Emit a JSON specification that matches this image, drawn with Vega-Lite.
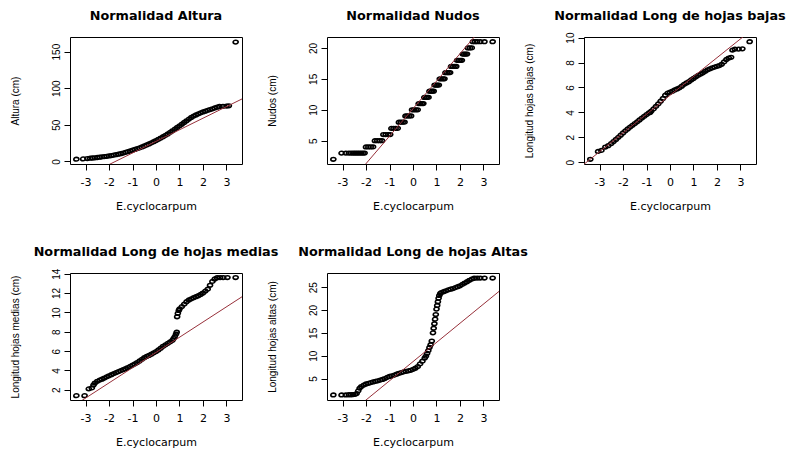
{
  "$schema": "https://vega.github.io/schema/vega-lite/v6.json",
  "background": "white",
  "padding": {"left": 9, "top": 9, "right": 0, "bottom": 0},
  "columns": 3,
  "bounds": "flush",
  "spacing": {"column": 85, "row": 109},
  "datasets": {
    "qq": [
      {"var": "Altura", "q": -3.39, "v": 3}, {"var": "Altura", "q": -3.1, "v": 3.4}, {"var": "Altura", "q": -2.92, "v": 3.9}, {"var": "Altura", "q": -2.8, "v": 4.3},
      {"var": "Altura", "q": -2.7, "v": 4.6}, {"var": "Altura", "q": -2.6, "v": 4.9}, {"var": "Altura", "q": -2.5, "v": 5.3}, {"var": "Altura", "q": -2.4, "v": 5.7},
      {"var": "Altura", "q": -2.3, "v": 6.1}, {"var": "Altura", "q": -2.2, "v": 6.5}, {"var": "Altura", "q": -2.1, "v": 6.9}, {"var": "Altura", "q": -2.0, "v": 7.4},
      {"var": "Altura", "q": -1.9, "v": 7.9}, {"var": "Altura", "q": -1.8, "v": 8.5}, {"var": "Altura", "q": -1.7, "v": 9.1}, {"var": "Altura", "q": -1.6, "v": 9.8},
      {"var": "Altura", "q": -1.5, "v": 10.5}, {"var": "Altura", "q": -1.4, "v": 11.4}, {"var": "Altura", "q": -1.3, "v": 12.3}, {"var": "Altura", "q": -1.2, "v": 13.2},
      {"var": "Altura", "q": -1.1, "v": 14.2}, {"var": "Altura", "q": -1.0, "v": 15.2}, {"var": "Altura", "q": -0.9, "v": 16.3}, {"var": "Altura", "q": -0.8, "v": 17.4},
      {"var": "Altura", "q": -0.7, "v": 18.5}, {"var": "Altura", "q": -0.6, "v": 19.7}, {"var": "Altura", "q": -0.5, "v": 21}, {"var": "Altura", "q": -0.4, "v": 22.4},
      {"var": "Altura", "q": -0.3, "v": 23.8}, {"var": "Altura", "q": -0.2, "v": 25.3}, {"var": "Altura", "q": -0.1, "v": 26.9}, {"var": "Altura", "q": 0.0, "v": 28.5},
      {"var": "Altura", "q": 0.1, "v": 30.2}, {"var": "Altura", "q": 0.2, "v": 31.9}, {"var": "Altura", "q": 0.3, "v": 33.7}, {"var": "Altura", "q": 0.4, "v": 35.6},
      {"var": "Altura", "q": 0.5, "v": 37.5}, {"var": "Altura", "q": 0.6, "v": 39.6}, {"var": "Altura", "q": 0.7, "v": 41.8}, {"var": "Altura", "q": 0.8, "v": 44},
      {"var": "Altura", "q": 0.9, "v": 46.3}, {"var": "Altura", "q": 1.0, "v": 48.5}, {"var": "Altura", "q": 1.1, "v": 50.8}, {"var": "Altura", "q": 1.2, "v": 53.2},
      {"var": "Altura", "q": 1.3, "v": 55.5}, {"var": "Altura", "q": 1.4, "v": 57.8}, {"var": "Altura", "q": 1.5, "v": 60}, {"var": "Altura", "q": 1.6, "v": 61.8},
      {"var": "Altura", "q": 1.7, "v": 63.4}, {"var": "Altura", "q": 1.8, "v": 64.9}, {"var": "Altura", "q": 1.9, "v": 66.3}, {"var": "Altura", "q": 2.0, "v": 67.5},
      {"var": "Altura", "q": 2.1, "v": 68.6}, {"var": "Altura", "q": 2.2, "v": 69.7}, {"var": "Altura", "q": 2.3, "v": 70.8}, {"var": "Altura", "q": 2.4, "v": 71.9},
      {"var": "Altura", "q": 2.5, "v": 73}, {"var": "Altura", "q": 2.6, "v": 74}, {"var": "Altura", "q": 2.7, "v": 75}, {"var": "Altura", "q": 2.85, "v": 75.3},
      {"var": "Altura", "q": 3.0, "v": 75.6}, {"var": "Altura", "q": 3.1, "v": 76}, {"var": "Altura", "q": 3.39, "v": 163},

      {"var": "Nudos", "q": -3.39, "v": 2},
      {"var": "Nudos", "q": -3.04, "v": 3}, {"var": "Nudos", "q": -2.86, "v": 3}, {"var": "Nudos", "q": -2.73, "v": 3}, {"var": "Nudos", "q": -2.63, "v": 3},
      {"var": "Nudos", "q": -2.54, "v": 3}, {"var": "Nudos", "q": -2.46, "v": 3}, {"var": "Nudos", "q": -2.38, "v": 3}, {"var": "Nudos", "q": -2.3, "v": 3},
      {"var": "Nudos", "q": -2.22, "v": 3}, {"var": "Nudos", "q": -2.14, "v": 3}, {"var": "Nudos", "q": -2.06, "v": 3},
      {"var": "Nudos", "q": -2.0, "v": 4}, {"var": "Nudos", "q": -1.9, "v": 4}, {"var": "Nudos", "q": -1.8, "v": 4}, {"var": "Nudos", "q": -1.7, "v": 4},
      {"var": "Nudos", "q": -1.62, "v": 5}, {"var": "Nudos", "q": -1.52, "v": 5}, {"var": "Nudos", "q": -1.42, "v": 5}, {"var": "Nudos", "q": -1.32, "v": 5},
      {"var": "Nudos", "q": -1.26, "v": 6}, {"var": "Nudos", "q": -1.16, "v": 6}, {"var": "Nudos", "q": -1.06, "v": 6}, {"var": "Nudos", "q": -0.97, "v": 6},
      {"var": "Nudos", "q": -0.92, "v": 7}, {"var": "Nudos", "q": -0.83, "v": 7}, {"var": "Nudos", "q": -0.74, "v": 7}, {"var": "Nudos", "q": -0.65, "v": 7},
      {"var": "Nudos", "q": -0.6, "v": 8}, {"var": "Nudos", "q": -0.52, "v": 8}, {"var": "Nudos", "q": -0.44, "v": 8}, {"var": "Nudos", "q": -0.36, "v": 8},
      {"var": "Nudos", "q": -0.32, "v": 9}, {"var": "Nudos", "q": -0.24, "v": 9}, {"var": "Nudos", "q": -0.16, "v": 9}, {"var": "Nudos", "q": -0.08, "v": 9},
      {"var": "Nudos", "q": -0.04, "v": 10}, {"var": "Nudos", "q": 0.04, "v": 10}, {"var": "Nudos", "q": 0.12, "v": 10}, {"var": "Nudos", "q": 0.2, "v": 10},
      {"var": "Nudos", "q": 0.24, "v": 11}, {"var": "Nudos", "q": 0.31, "v": 11}, {"var": "Nudos", "q": 0.38, "v": 11}, {"var": "Nudos", "q": 0.44, "v": 11},
      {"var": "Nudos", "q": 0.48, "v": 12}, {"var": "Nudos", "q": 0.54, "v": 12}, {"var": "Nudos", "q": 0.6, "v": 12}, {"var": "Nudos", "q": 0.66, "v": 12},
      {"var": "Nudos", "q": 0.7, "v": 13}, {"var": "Nudos", "q": 0.76, "v": 13}, {"var": "Nudos", "q": 0.82, "v": 13}, {"var": "Nudos", "q": 0.88, "v": 13},
      {"var": "Nudos", "q": 0.92, "v": 14}, {"var": "Nudos", "q": 0.98, "v": 14}, {"var": "Nudos", "q": 1.04, "v": 14}, {"var": "Nudos", "q": 1.1, "v": 14},
      {"var": "Nudos", "q": 1.14, "v": 15}, {"var": "Nudos", "q": 1.21, "v": 15}, {"var": "Nudos", "q": 1.28, "v": 15}, {"var": "Nudos", "q": 1.34, "v": 15},
      {"var": "Nudos", "q": 1.38, "v": 16}, {"var": "Nudos", "q": 1.45, "v": 16}, {"var": "Nudos", "q": 1.52, "v": 16}, {"var": "Nudos", "q": 1.58, "v": 16},
      {"var": "Nudos", "q": 1.62, "v": 17}, {"var": "Nudos", "q": 1.69, "v": 17}, {"var": "Nudos", "q": 1.77, "v": 17}, {"var": "Nudos", "q": 1.84, "v": 17},
      {"var": "Nudos", "q": 1.88, "v": 18}, {"var": "Nudos", "q": 1.95, "v": 18}, {"var": "Nudos", "q": 2.02, "v": 18}, {"var": "Nudos", "q": 2.08, "v": 18},
      {"var": "Nudos", "q": 2.12, "v": 19}, {"var": "Nudos", "q": 2.18, "v": 19}, {"var": "Nudos", "q": 2.24, "v": 19}, {"var": "Nudos", "q": 2.3, "v": 19},
      {"var": "Nudos", "q": 2.34, "v": 20}, {"var": "Nudos", "q": 2.42, "v": 20}, {"var": "Nudos", "q": 2.5, "v": 20},
      {"var": "Nudos", "q": 2.55, "v": 21}, {"var": "Nudos", "q": 2.64, "v": 21}, {"var": "Nudos", "q": 2.73, "v": 21}, {"var": "Nudos", "q": 2.86, "v": 21},
      {"var": "Nudos", "q": 3.04, "v": 21}, {"var": "Nudos", "q": 3.39, "v": 21},

      {"var": "Bajas", "q": -3.39, "v": 0.24}, {"var": "Bajas", "q": -3.06, "v": 0.87}, {"var": "Bajas", "q": -2.92, "v": 0.95}, {"var": "Bajas", "q": -2.75, "v": 1.22},
      {"var": "Bajas", "q": -2.63, "v": 1.33}, {"var": "Bajas", "q": -2.5, "v": 1.5}, {"var": "Bajas", "q": -2.4, "v": 1.66}, {"var": "Bajas", "q": -2.3, "v": 1.83},
      {"var": "Bajas", "q": -2.2, "v": 2.0}, {"var": "Bajas", "q": -2.1, "v": 2.17}, {"var": "Bajas", "q": -2.0, "v": 2.35}, {"var": "Bajas", "q": -1.9, "v": 2.52},
      {"var": "Bajas", "q": -1.8, "v": 2.67}, {"var": "Bajas", "q": -1.7, "v": 2.82}, {"var": "Bajas", "q": -1.6, "v": 2.96}, {"var": "Bajas", "q": -1.5, "v": 3.1},
      {"var": "Bajas", "q": -1.4, "v": 3.24}, {"var": "Bajas", "q": -1.3, "v": 3.39}, {"var": "Bajas", "q": -1.2, "v": 3.54}, {"var": "Bajas", "q": -1.1, "v": 3.68},
      {"var": "Bajas", "q": -1.0, "v": 3.82}, {"var": "Bajas", "q": -0.9, "v": 3.96}, {"var": "Bajas", "q": -0.85, "v": 3.98}, {"var": "Bajas", "q": -0.8, "v": 4.1},
      {"var": "Bajas", "q": -0.7, "v": 4.28}, {"var": "Bajas", "q": -0.6, "v": 4.48}, {"var": "Bajas", "q": -0.5, "v": 4.68}, {"var": "Bajas", "q": -0.4, "v": 4.9},
      {"var": "Bajas", "q": -0.3, "v": 5.12}, {"var": "Bajas", "q": -0.2, "v": 5.38}, {"var": "Bajas", "q": -0.1, "v": 5.55}, {"var": "Bajas", "q": 0.0, "v": 5.62},
      {"var": "Bajas", "q": 0.1, "v": 5.7}, {"var": "Bajas", "q": 0.2, "v": 5.8}, {"var": "Bajas", "q": 0.3, "v": 5.88}, {"var": "Bajas", "q": 0.4, "v": 5.97},
      {"var": "Bajas", "q": 0.5, "v": 6.1}, {"var": "Bajas", "q": 0.6, "v": 6.25}, {"var": "Bajas", "q": 0.7, "v": 6.36}, {"var": "Bajas", "q": 0.8, "v": 6.46},
      {"var": "Bajas", "q": 0.9, "v": 6.6}, {"var": "Bajas", "q": 1.0, "v": 6.72}, {"var": "Bajas", "q": 1.1, "v": 6.85}, {"var": "Bajas", "q": 1.2, "v": 6.97},
      {"var": "Bajas", "q": 1.3, "v": 7.07}, {"var": "Bajas", "q": 1.4, "v": 7.18}, {"var": "Bajas", "q": 1.5, "v": 7.3}, {"var": "Bajas", "q": 1.6, "v": 7.42},
      {"var": "Bajas", "q": 1.7, "v": 7.5}, {"var": "Bajas", "q": 1.8, "v": 7.58}, {"var": "Bajas", "q": 1.9, "v": 7.64}, {"var": "Bajas", "q": 2.0, "v": 7.7},
      {"var": "Bajas", "q": 2.1, "v": 7.76}, {"var": "Bajas", "q": 2.2, "v": 7.86}, {"var": "Bajas", "q": 2.3, "v": 8.05}, {"var": "Bajas", "q": 2.4, "v": 8.25},
      {"var": "Bajas", "q": 2.5, "v": 8.36}, {"var": "Bajas", "q": 2.6, "v": 8.42}, {"var": "Bajas", "q": 2.66, "v": 9.0}, {"var": "Bajas", "q": 2.76, "v": 9.08},
      {"var": "Bajas", "q": 2.92, "v": 9.08}, {"var": "Bajas", "q": 3.08, "v": 9.1}, {"var": "Bajas", "q": 3.39, "v": 9.67},

      {"var": "Medias", "q": -3.39, "v": 1.4}, {"var": "Medias", "q": -3.04, "v": 1.4}, {"var": "Medias", "q": -2.86, "v": 2.1}, {"var": "Medias", "q": -2.73, "v": 2.2},
      {"var": "Medias", "q": -2.66, "v": 2.5}, {"var": "Medias", "q": -2.6, "v": 2.7}, {"var": "Medias", "q": -2.5, "v": 2.88}, {"var": "Medias", "q": -2.4, "v": 3.0},
      {"var": "Medias", "q": -2.3, "v": 3.1}, {"var": "Medias", "q": -2.2, "v": 3.22}, {"var": "Medias", "q": -2.1, "v": 3.34}, {"var": "Medias", "q": -2.0, "v": 3.45},
      {"var": "Medias", "q": -1.9, "v": 3.56}, {"var": "Medias", "q": -1.8, "v": 3.67}, {"var": "Medias", "q": -1.7, "v": 3.78}, {"var": "Medias", "q": -1.6, "v": 3.88},
      {"var": "Medias", "q": -1.5, "v": 3.98}, {"var": "Medias", "q": -1.4, "v": 4.08}, {"var": "Medias", "q": -1.3, "v": 4.18}, {"var": "Medias", "q": -1.2, "v": 4.3},
      {"var": "Medias", "q": -1.1, "v": 4.42}, {"var": "Medias", "q": -1.0, "v": 4.55}, {"var": "Medias", "q": -0.9, "v": 4.68}, {"var": "Medias", "q": -0.8, "v": 4.82},
      {"var": "Medias", "q": -0.7, "v": 4.98}, {"var": "Medias", "q": -0.6, "v": 5.15}, {"var": "Medias", "q": -0.5, "v": 5.32}, {"var": "Medias", "q": -0.4, "v": 5.45},
      {"var": "Medias", "q": -0.3, "v": 5.55}, {"var": "Medias", "q": -0.2, "v": 5.68}, {"var": "Medias", "q": -0.1, "v": 5.82}, {"var": "Medias", "q": 0.0, "v": 5.95},
      {"var": "Medias", "q": 0.1, "v": 6.12}, {"var": "Medias", "q": 0.2, "v": 6.3}, {"var": "Medias", "q": 0.3, "v": 6.5}, {"var": "Medias", "q": 0.4, "v": 6.65},
      {"var": "Medias", "q": 0.5, "v": 6.8}, {"var": "Medias", "q": 0.6, "v": 6.95}, {"var": "Medias", "q": 0.7, "v": 7.12}, {"var": "Medias", "q": 0.75, "v": 7.3},
      {"var": "Medias", "q": 0.8, "v": 7.5}, {"var": "Medias", "q": 0.85, "v": 7.75}, {"var": "Medias", "q": 0.88, "v": 7.95}, {"var": "Medias", "q": 0.9, "v": 9.55},
      {"var": "Medias", "q": 0.93, "v": 9.9}, {"var": "Medias", "q": 0.97, "v": 10.2}, {"var": "Medias", "q": 1.0, "v": 10.35}, {"var": "Medias", "q": 1.1, "v": 10.6},
      {"var": "Medias", "q": 1.2, "v": 10.85}, {"var": "Medias", "q": 1.3, "v": 11.1}, {"var": "Medias", "q": 1.4, "v": 11.28}, {"var": "Medias", "q": 1.5, "v": 11.4},
      {"var": "Medias", "q": 1.6, "v": 11.52}, {"var": "Medias", "q": 1.7, "v": 11.62}, {"var": "Medias", "q": 1.8, "v": 11.72}, {"var": "Medias", "q": 1.9, "v": 11.85},
      {"var": "Medias", "q": 2.0, "v": 12.0}, {"var": "Medias", "q": 2.1, "v": 12.2}, {"var": "Medias", "q": 2.2, "v": 12.4}, {"var": "Medias", "q": 2.3, "v": 12.8},
      {"var": "Medias", "q": 2.4, "v": 13.2}, {"var": "Medias", "q": 2.5, "v": 13.45}, {"var": "Medias", "q": 2.6, "v": 13.58}, {"var": "Medias", "q": 2.73, "v": 13.6},
      {"var": "Medias", "q": 2.86, "v": 13.6}, {"var": "Medias", "q": 3.04, "v": 13.6}, {"var": "Medias", "q": 3.39, "v": 13.6},

      {"var": "Altas", "q": -3.39, "v": 1.4}, {"var": "Altas", "q": -3.04, "v": 1.4}, {"var": "Altas", "q": -2.86, "v": 1.4}, {"var": "Altas", "q": -2.73, "v": 1.45},
      {"var": "Altas", "q": -2.63, "v": 1.45}, {"var": "Altas", "q": -2.55, "v": 1.5}, {"var": "Altas", "q": -2.47, "v": 1.55}, {"var": "Altas", "q": -2.4, "v": 1.7},
      {"var": "Altas", "q": -2.33, "v": 2.3}, {"var": "Altas", "q": -2.27, "v": 2.9}, {"var": "Altas", "q": -2.2, "v": 3.25}, {"var": "Altas", "q": -2.1, "v": 3.55},
      {"var": "Altas", "q": -2.0, "v": 3.8}, {"var": "Altas", "q": -1.9, "v": 3.95}, {"var": "Altas", "q": -1.8, "v": 4.1}, {"var": "Altas", "q": -1.7, "v": 4.25},
      {"var": "Altas", "q": -1.6, "v": 4.38}, {"var": "Altas", "q": -1.5, "v": 4.5}, {"var": "Altas", "q": -1.4, "v": 4.65}, {"var": "Altas", "q": -1.3, "v": 4.8},
      {"var": "Altas", "q": -1.2, "v": 5.0}, {"var": "Altas", "q": -1.1, "v": 5.25}, {"var": "Altas", "q": -1.0, "v": 5.45}, {"var": "Altas", "q": -0.9, "v": 5.6},
      {"var": "Altas", "q": -0.8, "v": 5.75}, {"var": "Altas", "q": -0.7, "v": 5.95}, {"var": "Altas", "q": -0.6, "v": 6.15}, {"var": "Altas", "q": -0.5, "v": 6.3},
      {"var": "Altas", "q": -0.4, "v": 6.45}, {"var": "Altas", "q": -0.3, "v": 6.58}, {"var": "Altas", "q": -0.2, "v": 6.68}, {"var": "Altas", "q": -0.1, "v": 6.8},
      {"var": "Altas", "q": 0.0, "v": 7.0}, {"var": "Altas", "q": 0.1, "v": 7.25}, {"var": "Altas", "q": 0.2, "v": 7.6}, {"var": "Altas", "q": 0.3, "v": 8.2},
      {"var": "Altas", "q": 0.4, "v": 8.8}, {"var": "Altas", "q": 0.5, "v": 9.5}, {"var": "Altas", "q": 0.55, "v": 9.9}, {"var": "Altas", "q": 0.6, "v": 10.5},
      {"var": "Altas", "q": 0.65, "v": 11.1}, {"var": "Altas", "q": 0.7, "v": 11.8}, {"var": "Altas", "q": 0.75, "v": 12.4}, {"var": "Altas", "q": 0.8, "v": 13.2},
      {"var": "Altas", "q": 0.85, "v": 15.0}, {"var": "Altas", "q": 0.88, "v": 16.0}, {"var": "Altas", "q": 0.91, "v": 17.0}, {"var": "Altas", "q": 0.94, "v": 18.0},
      {"var": "Altas", "q": 0.97, "v": 19.0}, {"var": "Altas", "q": 1.0, "v": 20.2}, {"var": "Altas", "q": 1.03, "v": 21.0}, {"var": "Altas", "q": 1.06, "v": 21.8},
      {"var": "Altas", "q": 1.09, "v": 22.6}, {"var": "Altas", "q": 1.12, "v": 23.2}, {"var": "Altas", "q": 1.16, "v": 23.6}, {"var": "Altas", "q": 1.2, "v": 23.8},
      {"var": "Altas", "q": 1.3, "v": 24.0}, {"var": "Altas", "q": 1.4, "v": 24.2}, {"var": "Altas", "q": 1.5, "v": 24.4}, {"var": "Altas", "q": 1.6, "v": 24.55},
      {"var": "Altas", "q": 1.7, "v": 24.7}, {"var": "Altas", "q": 1.8, "v": 24.9}, {"var": "Altas", "q": 1.9, "v": 25.1}, {"var": "Altas", "q": 2.0, "v": 25.3},
      {"var": "Altas", "q": 2.1, "v": 25.6}, {"var": "Altas", "q": 2.2, "v": 25.9}, {"var": "Altas", "q": 2.3, "v": 26.2}, {"var": "Altas", "q": 2.4, "v": 26.5},
      {"var": "Altas", "q": 2.5, "v": 26.75}, {"var": "Altas", "q": 2.6, "v": 26.95}, {"var": "Altas", "q": 2.73, "v": 27.0}, {"var": "Altas", "q": 2.86, "v": 27.0},
      {"var": "Altas", "q": 3.04, "v": 27.0}, {"var": "Altas", "q": 3.39, "v": 27.0}
    ],
    "qqline": [
      {"var": "Altura", "q": -4, "v": -36.1}, {"var": "Altura", "q": 4, "v": 90.7},
      {"var": "Nudos", "q": -4, "v": -7.58}, {"var": "Nudos", "q": 4, "v": 27.94},
      {"var": "Bajas", "q": -4, "v": -0.67}, {"var": "Bajas", "q": 4, "v": 11.41},
      {"var": "Medias", "q": -4, "v": -0.43}, {"var": "Medias", "q": 4, "v": 12.15},
      {"var": "Altas", "q": -4, "v": -8.1}, {"var": "Altas", "q": 4, "v": 25.5}
    ]
  },
  "concat": [
    {
      "title": {"text": "Normalidad Altura", "offset": 14},
      "width": 172, "height": 127,
      "encoding": {
        "x": {"field": "q", "type": "quantitative", "scale": {"domain": [-3.66, 3.66], "nice": false, "zero": false}, "axis": {"values": [-3, -2, -1, 0, 1, 2, 3], "labelOverlap": false, "title": "E.cyclocarpum"}},
        "y": {"field": "v", "type": "quantitative", "scale": {"domain": [-3.6, 170], "nice": false, "zero": false}, "axis": {"values": [0, 50, 100, 150], "labelOverlap": false, "title": "Altura (cm)"}}
      },
      "layer": [
        {
          "data": {"name": "qq"},
          "transform": [{"filter": "datum.var === 'Altura'"}],
          "mark": {"type": "point", "shape": "M-1,0A1,0.72,0,1,0,1,0A1,0.72,0,1,0,-1,0Z", "filled": false, "color": "black", "size": 26, "strokeWidth": 1.6, "opacity": 1}
        },
        {
          "data": {"name": "qqline"},
          "transform": [{"filter": "datum.var === 'Altura'"}],
          "mark": {"type": "line", "color": "#97303a", "strokeWidth": 1, "clip": true}
        }
      ]
    },
    {
      "title": {"text": "Normalidad Nudos", "offset": 14},
      "width": 172, "height": 127,
      "encoding": {
        "x": {"field": "q", "type": "quantitative", "scale": {"domain": [-3.66, 3.66], "nice": false, "zero": false}, "axis": {"values": [-3, -2, -1, 0, 1, 2, 3], "labelOverlap": false, "title": "E.cyclocarpum"}},
        "y": {"field": "v", "type": "quantitative", "scale": {"domain": [1.24, 21.76], "nice": false, "zero": false}, "axis": {"values": [5, 10, 15, 20], "labelOverlap": false, "title": "Nudos (cm)"}}
      },
      "layer": [
        {
          "data": {"name": "qq"},
          "transform": [{"filter": "datum.var === 'Nudos'"}],
          "mark": {"type": "point", "shape": "M-1,0A1,0.72,0,1,0,1,0A1,0.72,0,1,0,-1,0Z", "filled": false, "color": "black", "size": 26, "strokeWidth": 1.6, "opacity": 1}
        },
        {
          "data": {"name": "qqline"},
          "transform": [{"filter": "datum.var === 'Nudos'"}],
          "mark": {"type": "line", "color": "#97303a", "strokeWidth": 1, "clip": true}
        }
      ]
    },
    {
      "title": {"text": "Normalidad Long de hojas bajas", "offset": 9},
      "width": 172, "height": 127,
      "encoding": {
        "x": {"field": "q", "type": "quantitative", "scale": {"domain": [-3.66, 3.66], "nice": false, "zero": false}, "axis": {"values": [-3, -2, -1, 0, 1, 2, 3], "labelOverlap": false, "title": "E.cyclocarpum"}},
        "y": {"field": "v", "type": "quantitative", "scale": {"domain": [-0.14, 10.05], "nice": false, "zero": false}, "axis": {"values": [0, 2, 4, 6, 8, 10], "labelOverlap": false, "title": "Longitud hojas bajas (cm)"}}
      },
      "layer": [
        {
          "data": {"name": "qq"},
          "transform": [{"filter": "datum.var === 'Bajas'"}],
          "mark": {"type": "point", "shape": "M-1,0A1,0.72,0,1,0,1,0A1,0.72,0,1,0,-1,0Z", "filled": false, "color": "black", "size": 26, "strokeWidth": 1.6, "opacity": 1}
        },
        {
          "data": {"name": "qqline"},
          "transform": [{"filter": "datum.var === 'Bajas'"}],
          "mark": {"type": "line", "color": "#97303a", "strokeWidth": 1, "clip": true}
        }
      ]
    },
    {
      "title": {"text": "Normalidad Long de hojas medias", "offset": 9},
      "width": 172, "height": 127,
      "encoding": {
        "x": {"field": "q", "type": "quantitative", "scale": {"domain": [-3.66, 3.66], "nice": false, "zero": false}, "axis": {"values": [-3, -2, -1, 0, 1, 2, 3], "labelOverlap": false, "title": "E.cyclocarpum"}},
        "y": {"field": "v", "type": "quantitative", "scale": {"domain": [0.95, 14.07], "nice": false, "zero": false}, "axis": {"values": [2, 4, 6, 8, 10, 12, 14], "labelOverlap": false, "title": "Longitud hojas medias (cm)"}}
      },
      "layer": [
        {
          "data": {"name": "qq"},
          "transform": [{"filter": "datum.var === 'Medias'"}],
          "mark": {"type": "point", "shape": "M-1,0A1,0.72,0,1,0,1,0A1,0.72,0,1,0,-1,0Z", "filled": false, "color": "black", "size": 26, "strokeWidth": 1.6, "opacity": 1}
        },
        {
          "data": {"name": "qqline"},
          "transform": [{"filter": "datum.var === 'Medias'"}],
          "mark": {"type": "line", "color": "#97303a", "strokeWidth": 1, "clip": true}
        }
      ]
    },
    {
      "title": {"text": "Normalidad Long de hojas Altas", "offset": 14},
      "width": 172, "height": 127,
      "encoding": {
        "x": {"field": "q", "type": "quantitative", "scale": {"domain": [-3.66, 3.66], "nice": false, "zero": false}, "axis": {"values": [-3, -2, -1, 0, 1, 2, 3], "labelOverlap": false, "title": "E.cyclocarpum"}},
        "y": {"field": "v", "type": "quantitative", "scale": {"domain": [0.3, 28.1], "nice": false, "zero": false}, "axis": {"values": [5, 10, 15, 20, 25], "labelOverlap": false, "title": "Longitud hojas altas (cm)"}}
      },
      "layer": [
        {
          "data": {"name": "qq"},
          "transform": [{"filter": "datum.var === 'Altas'"}],
          "mark": {"type": "point", "shape": "M-1,0A1,0.72,0,1,0,1,0A1,0.72,0,1,0,-1,0Z", "filled": false, "color": "black", "size": 26, "strokeWidth": 1.6, "opacity": 1}
        },
        {
          "data": {"name": "qqline"},
          "transform": [{"filter": "datum.var === 'Altas'"}],
          "mark": {"type": "line", "color": "#97303a", "strokeWidth": 1, "clip": true}
        }
      ]
    }
  ],
  "config": {
    "view": {"stroke": "black", "strokeWidth": 1},
    "title": {"font": "DejaVu Sans", "fontSize": 12.8, "fontWeight": "bold", "color": "black", "anchor": "middle", "frame": "group"},
    "axis": {"grid": false, "domain": false, "ticks": true, "tickColor": "black", "tickSize": 6, "labelColor": "black", "titleColor": "black", "titleFontWeight": "normal", "labelOverlap": false, "labelFlush": false, "labelBound": false},
    "axisX": {"labelFont": "DejaVu Sans", "labelFontSize": 11, "titleFont": "DejaVu Sans", "titleFontSize": 11, "labelPadding": 6, "titlePadding": 13, "labelAngle": 0, "labelSeparation": 0, "labelExpr": "replace(datum.label, '\u2212', '-')"},
    "axisY": {"labelFont": "Liberation Sans", "labelFontSize": 10, "titleFont": "Liberation Sans", "titleFontSize": 10, "labelAngle": -90, "labelAlign": "center", "labelBaseline": "bottom", "labelPadding": 3, "titlePadding": 31, "labelSeparation": 0}
  }
}
